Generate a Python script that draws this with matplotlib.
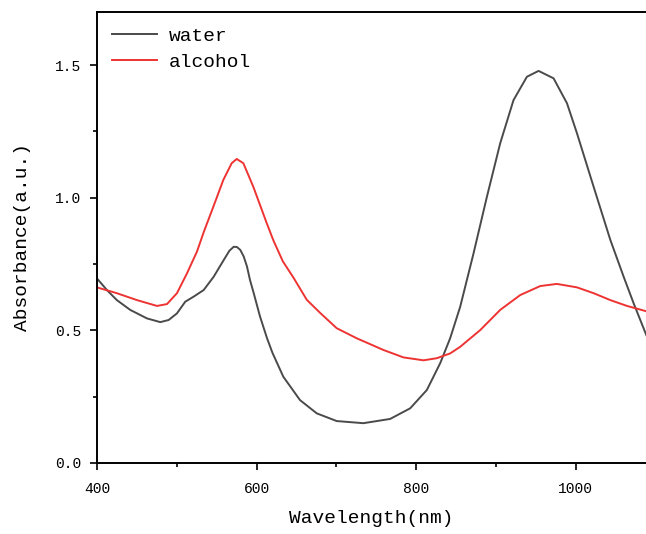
import numpy as np
import matplotlib
matplotlib.use("Agg")
import matplotlib.pyplot as plt
from matplotlib.ticker import MultipleLocator, FormatStrFormatter

# values
water_x = [400, 412.5, 425, 441.8, 462.7, 479.4, 489.9, 500.3, 510.7, 521.2, 533.8,
           546.3, 558.9, 566, 571.4, 575.5, 579.7, 584, 588.1, 591.8, 596.5, 604.4,
           613.2, 620, 633.6, 654.5, 675.5, 700.5, 733.9, 767.4, 792.5, 813.4, 830.1,
           842.6, 855.2, 871.9, 888.7, 905.3, 922, 938.8, 953.4, 972.2, 989, 1001.5,
           1022.4, 1043.3, 1060, 1072.5, 1088.4]
water_y = [0.696, 0.652, 0.614, 0.577, 0.545, 0.531, 0.539, 0.564, 0.608, 0.627, 0.652,
           0.702, 0.765, 0.800, 0.815, 0.814, 0.803, 0.778, 0.740, 0.690, 0.640, 0.552,
           0.470, 0.415, 0.325, 0.237, 0.187, 0.158, 0.150, 0.166, 0.206, 0.275, 0.376,
           0.470, 0.589, 0.790, 1.004, 1.205, 1.368, 1.456, 1.478, 1.450, 1.356, 1.243,
           1.041, 0.841, 0.702, 0.602, 0.482]

alcohol_x = [400, 425, 450.2, 475.3, 487.8, 500.3, 512.9, 525.4, 533.8, 545.9, 558.4,
             568.9, 575.2, 583.5, 596, 612.8, 621, 633, 646, 655, 663, 680, 700.5,
             725.6, 759, 784.1, 809.2, 825.9, 842.6, 855.2, 880.3, 905.3, 930.4, 955.5,
             976.4, 1001.5, 1022.4, 1043.3, 1064.2, 1088.4]
alcohol_y = [0.662, 0.640, 0.614, 0.592, 0.599, 0.640, 0.715, 0.797, 0.870, 0.966, 1.067,
             1.130, 1.146, 1.130, 1.041, 0.904, 0.840, 0.760, 0.700, 0.655, 0.615, 0.565,
             0.508, 0.470, 0.426, 0.398, 0.387, 0.395, 0.413, 0.438, 0.501, 0.577, 0.633,
             0.667, 0.675, 0.662, 0.640, 0.614, 0.592, 0.572]

plt.rcParams['font.family'] = ['Liberation Mono', 'DejaVu Sans Mono']

fig = plt.figure(figsize=(6.46, 5.34), dpi=100)
ax = fig.add_axes([0.150, 0.133, 0.85, 0.8445])

ax.plot(water_x, water_y, color='#4a4a4a', lw=1.4, label='water')
ax.plot(alcohol_x, alcohol_y, color='#ee3333', lw=1.4, label='alcohol')

ax.set_xlim(400, 1088)
ax.set_ylim(0, 1.7)
ax.xaxis.set_major_locator(MultipleLocator(200))
ax.xaxis.set_minor_locator(MultipleLocator(100))
ax.yaxis.set_major_locator(MultipleLocator(0.5))
ax.yaxis.set_minor_locator(MultipleLocator(0.25))
ax.yaxis.set_major_formatter(FormatStrFormatter('%.1f'))
ax.tick_params(which='major', direction='out', length=5, width=1.2, labelsize=10.5)
ax.tick_params(which='minor', direction='out', length=3, width=1.2)
ax.tick_params(axis='x', pad=8.5)
ax.tick_params(axis='y', pad=6.5)
ax.tick_params(top=False, right=False, which='both')
ax.spines['right'].set_visible(False)
for s in ['left', 'bottom', 'top']:
    ax.spines[s].set_linewidth(1.4)

ax.set_xlabel('Wavelength(nm)', fontsize=14, labelpad=10)
ax.set_ylabel('Absorbance(a.u.)', fontsize=14, labelpad=17)

ax.legend(loc='upper left', frameon=False, fontsize=14, handlelength=2.3,
          handletextpad=0.6, labelspacing=0.4, borderaxespad=0.4)

fig.savefig('out.png', dpi=100)
